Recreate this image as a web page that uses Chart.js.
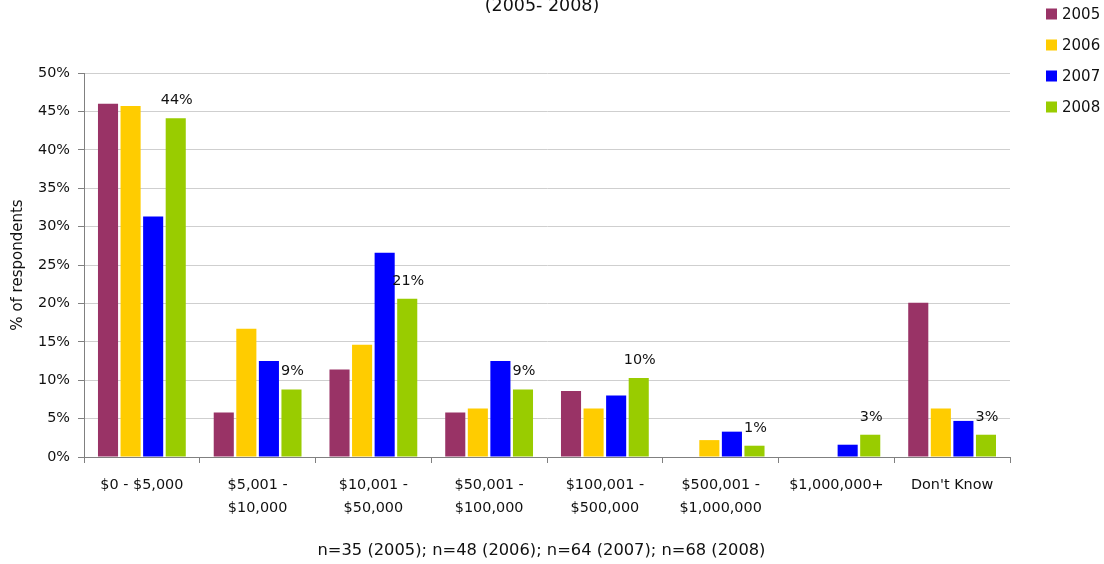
<!DOCTYPE html>
<html><head><meta charset="utf-8">
<script src="https://cdn.jsdelivr.net/npm/chart.js@4/dist/chart.umd.min.js"></script>
<style>html,body{margin:0;padding:0;background:#fff}#wrap{width:1104px;height:564px;position:relative}</style>
</head><body><div id="wrap"><canvas id="c"></canvas></div>
<script>
const categories = [['$0 - $5,000'], ['$5,001 -', '$10,000'], ['$10,001 -', '$50,000'], ['$50,001 -', '$100,000'], ['$100,001 -', '$500,000'], ['$500,001 -', '$1,000,000'], ['$1,000,000+'], ["Don't Know"]];
const years = ['2005', '2006', '2007', '2008'];
const values2005 = [46.0, 5.8, 11.4, 5.8, 8.6, 0, 0, 20.1];
const values2006 = [45.7, 16.7, 14.6, 6.3, 6.3, 2.2, 0, 6.3];
const values2007 = [31.3, 12.5, 26.6, 12.5, 8.0, 3.3, 1.6, 4.7];
const values2008 = [44.1, 8.8, 20.6, 8.8, 10.3, 1.47, 2.9, 2.9];
const yTickValues = [0, 5, 10, 15, 20, 25, 30, 35, 40, 45, 50];
const titleText = '(2005- 2008)';
const yAxisTitle = '% of respondents';
const footnote = 'n=35 (2005); n=48 (2006); n=64 (2007); n=68 (2008)';
const colors = ['#993366', '#FFCC00', '#0000FF', '#99CC00'];
const labelledSeries = 3;

const FONT = '"DejaVu Sans"';
const TXT = '#111';

const textPlugin = {
  id: 'extraText',
  afterDraw(chart) {
    const ctx = chart.ctx;
    ctx.save();
    ctx.fillStyle = TXT;
    ctx.textAlign = 'center';
    ctx.font = '17.5px ' + FONT;
    ctx.textBaseline = 'alphabetic';
    ctx.fillText(titleText, 542, 11);
    ctx.font = '16.3px ' + FONT;
    ctx.textBaseline = 'middle';
    ctx.fillText(footnote, 541.5, 551);
    ctx.restore();
  }
};

const customLegend = {
  id: 'customLegend',
  afterDraw(chart) {
    const ctx = chart.ctx;
    ctx.save();
    ctx.font = '15px ' + FONT;
    ctx.textAlign = 'left';
    ctx.textBaseline = 'middle';
    chart.data.datasets.forEach((ds, i) => {
      const cy = 14 + i * 31;
      ctx.fillStyle = ds.backgroundColor;
      ctx.fillRect(1046, cy - 5.5, 11, 11);
      ctx.fillStyle = TXT;
      ctx.fillText(ds.label, 1062, cy + 1);
    });
    ctx.restore();
  }
};

const valueLabels = {
  id: 'valueLabels',
  afterDatasetsDraw(chart) {
    const ctx = chart.ctx;
    const meta = chart.getDatasetMeta(labelledSeries);
    const data = chart.data.datasets[labelledSeries].data;
    ctx.save();
    ctx.font = '14.4px ' + FONT;
    ctx.fillStyle = TXT;
    ctx.textAlign = 'center';
    ctx.textBaseline = 'alphabetic';
    meta.data.forEach((bar, i) => {
      ctx.fillText(Math.round(data[i]) + '%', bar.x + 1, bar.y - 14);
    });
    ctx.restore();
  }
};

new Chart(document.getElementById('c'), {
  type: 'bar',
  data: {
    labels: categories,
    datasets: [values2005, values2006, values2007, values2008].map((d, i) => ({
      label: years[i], data: d, backgroundColor: colors[i], borderWidth: 0,
      categoryPercentage: 0.78, barPercentage: 0.89
    }))
  },
  options: {
    responsive: true, maintainAspectRatio: false, animation: false,
    layout: { padding: { top: 73, left: 0, right: 94, bottom: 0 } },
    plugins: {
      tooltip: { enabled: false },
      title: { display: false },
      legend: { display: false }
    },
    scales: {
      x: {
        afterFit(scale) { scale.height = 107; },
        grid: { display: true, drawOnChartArea: false, drawTicks: true, tickLength: 6, color: '#808080', offset: true },
        border: { color: '#808080' },
        ticks: { color: TXT, font: { family: FONT, size: 14.4, lineHeight: 1.6 }, padding: 11, maxRotation: 0, autoSkip: false }
      },
      y: {
        min: 0, max: 50,
        afterFit(scale) { scale.width = 84; },
        afterBuildTicks(scale) { scale.ticks = yTickValues.map(v => ({ value: v })); },
        grid: { color: '#cfcfcf', tickLength: 6, tickColor: '#808080' },
        border: { color: '#808080' },
        ticks: { color: TXT, font: { family: FONT, size: 14.4 }, padding: 8, callback: v => v + '%' },
        title: { display: true, text: yAxisTitle, color: TXT, font: { family: FONT, size: 15 }, padding: { top: 9, bottom: 0 } }
      }
    }
  },
  plugins: [textPlugin, customLegend, valueLabels]
});
</script>
</body></html>
